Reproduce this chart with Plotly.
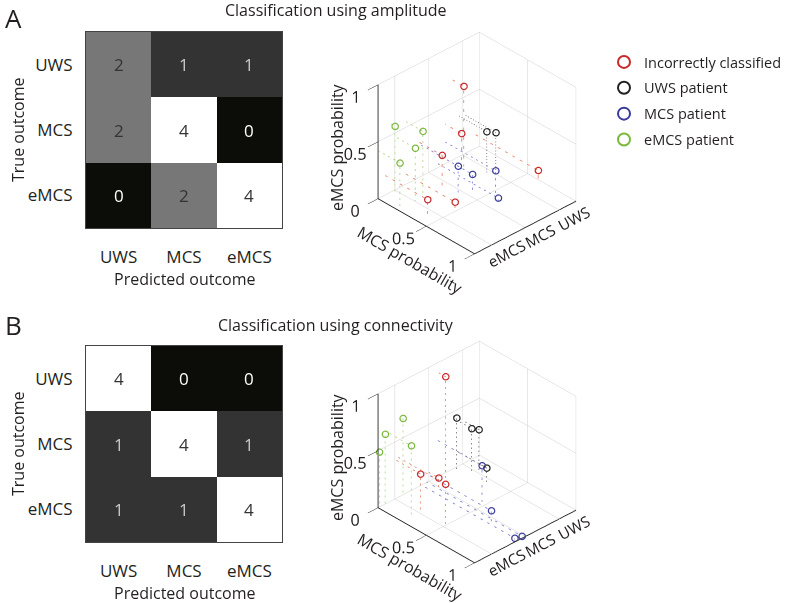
import plotly.graph_objects as go

# ---------------- data ----------------
classes = ["UWS", "MCS", "eMCS"]
conf_amplitude = [[2, 1, 1],
                  [2, 4, 0],
                  [0, 2, 4]]
conf_connectivity = [[4, 0, 0],
                     [1, 4, 1],
                     [1, 1, 4]]

# third axis: true class position (eMCS=1, MCS=2, UWS=3) with jitter
class_ticks = [1, 2, 3]
class_ticktext = ["eMCS", "MCS", "UWS"]

# Panel A (amplitude): MCS probability, class position, eMCS probability
a_incorrect_mcs = [0.117, 0.172, 0.249, 0.438, 0.519, 0.654]
a_incorrect_pos = [2.705, 2.48, 1.685, 0.713, 1.295, 3.371]
a_incorrect_emcs = [0.704, 0.351, 0.319, 0.171, 0.099, 0.123]
a_uws_mcs = [0.286, 0.33]
a_uws_pos = [2.9, 3.044]
a_uws_emcs = [0.357, 0.348]
a_mcs_mcs = [0.381, 0.417, 0.525, 0.661]
a_mcs_pos = [1.781, 2.102, 2.48, 2.168]
a_mcs_emcs = [0.273, 0.169, 0.195, 0.069]
a_emcs_mcs = [0.043, 0.187, 0.205, 0.219]
a_emcs_pos = [0.878, 1.292, 1.016, 0.52]
a_emcs_emcs = [0.598, 0.56, 0.463, 0.416]

# Panel B (connectivity)
b_incorrect_mcs = [0.07, 0.263, 0.103, 0.523]
b_incorrect_pos = [2.3, 1.004, 2.0, 1.001]
b_incorrect_emcs = [0.907, 0.345, 0.08, 0.382]
b_uws_mcs = [0.038, 0.13, 0.153, 0.32]
b_uws_pos = [2.72, 2.9, 3.05, 2.801]
b_uws_emcs = [0.464, 0.388, 0.367, 0.149]
b_mcs_mcs = [0.457, 0.69, 0.974, 0.986]
b_mcs_pos = [2.27, 1.88, 1.76, 1.94]
b_mcs_emcs = [0.318, 0.095, 0.01, 0.005]
b_emcs_mcs = [0.0, 0.005, 0.25, 0.003]
b_emcs_pos = [1.238, 0.698, 0.77, 0.53]
b_emcs_emcs = [0.67, 0.617, 0.623, 0.485]

group_names = ["Incorrectly classified", "UWS patient", "MCS patient", "eMCS patient"]
marker_colors = ["#c8282a", "#222222", "#3b3b9c", "#7ab83c"]
line_colors = ["#e0785a", "#666666", "#7777cc", "#a9d27a"]

FONT = "Open Sans"
TXT = "#231f20"

fig = go.Figure()

# ---------------- heatmaps ----------------
gray_scale = [[0, "#0c0c09"], [0.25, "#333333"], [0.5, "#777777"], [1, "#ffffff"]]
for conf, xa, ya in [(conf_amplitude, "x", "y"), (conf_connectivity, "x2", "y2")]:
    fig.add_trace(go.Heatmap(z=conf, x=classes, y=classes, colorscale=gray_scale,
                             zmin=0, zmax=4, showscale=False, xaxis=xa, yaxis=ya,
                             hoverinfo="skip"))

annotations = []
for conf, xr, yr in [(conf_amplitude, "x", "y"), (conf_connectivity, "x2", "y2")]:
    for i, row_name in enumerate(classes):
        for j, col_name in enumerate(classes):
            v = conf[i][j]
            col = "#ffffff" if v == 0 else ("#c8c8c8" if v == 1 else "#333333")
            annotations.append(dict(x=col_name, y=row_name, xref=xr, yref=yr, text=str(v),
                                    showarrow=False, font=dict(size=17, color=col, family=FONT)))

# ---------------- 3D scatters ----------------
panels = [
    ("scene", [(a_incorrect_mcs, a_incorrect_pos, a_incorrect_emcs),
               (a_uws_mcs, a_uws_pos, a_uws_emcs),
               (a_mcs_mcs, a_mcs_pos, a_mcs_emcs),
               (a_emcs_mcs, a_emcs_pos, a_emcs_emcs)], True),
    ("scene2", [(b_incorrect_mcs, b_incorrect_pos, b_incorrect_emcs),
                (b_uws_mcs, b_uws_pos, b_uws_emcs),
                (b_mcs_mcs, b_mcs_pos, b_mcs_emcs),
                (b_emcs_mcs, b_emcs_pos, b_emcs_emcs)], False),
]

for scene, groups, show in panels:
    for k, (xs, ys, zs) in enumerate(groups):
        X, Y, Z = [], [], []
        for x, y, z in zip(xs, ys, zs):
            X += [0, x, x, None]
            Y += [y, y, y, None]
            Z += [z, z, 0, None]
        fig.add_trace(go.Scatter3d(x=X, y=Y, z=Z, mode="lines", scene=scene,
                                   line=dict(color=line_colors[k], width=1.5, dash="dash"),
                                   showlegend=False, hoverinfo="skip"))
    for k, (xs, ys, zs) in enumerate(groups):
        fig.add_trace(go.Scatter3d(x=xs, y=ys, z=zs, mode="markers", scene=scene,
                                   name=group_names[k], showlegend=show,
                                   legendgroup="g%d" % k,
                                   marker=dict(symbol="circle-open", size=4,
                                               color=marker_colors[k],
                                               line=dict(width=2, color=marker_colors[k]))))


def axis3d(rng, tv, tt, angle, size=14, ticks="inside", ticklen=4, tickcolor="#222222"):
    return dict(range=rng, tickvals=tv, ticktext=tt, title=dict(text=""),
                showbackground=False, showgrid=True, gridcolor="#cfcfcf", gridwidth=1,
                showline=True, linecolor="#222222", linewidth=2, zeroline=False,
                ticks=ticks, tickcolor=tickcolor, ticklen=ticklen, showspikes=False,
                autorange=False, tickangle=angle,
                tickfont=dict(size=size, color=TXT, family=FONT))


eye_dir = (0.607, -0.579, 0.544)
scale = 2.0
camera = dict(eye=dict(x=eye_dir[0] * scale, y=eye_dir[1] * scale, z=eye_dir[2] * scale),
              center=dict(x=0, y=0, z=0), up=dict(x=0, y=0, z=1),
              projection=dict(type="orthographic"))


def scene_layout(ydom):
    return dict(domain=dict(x=[0.414, 0.794], y=ydom),
                xaxis=axis3d([0, 1], [0, 0.5, 1], ["", "0.5", "1"], 0),
                yaxis=axis3d([0.5, 3.5], class_ticks, class_ticktext, -28, size=13.5,
                             ticks="outside", ticklen=14, tickcolor="rgba(0,0,0,0)"),
                zaxis=axis3d([0, 1], [0, 0.5, 1], ["0", "0.5", "1"], 0),
                aspectmode="manual", aspectratio=dict(x=1, y=1, z=0.97),
                camera=camera, dragmode=False, bgcolor="rgba(0,0,0,0)")


def txt(text, x, y, size, angle=0):
    return dict(text=text, x=x / 790, y=1 - y / 603, xref="paper", yref="paper",
                xanchor="center", yanchor="middle", showarrow=False, textangle=angle,
                font=dict(size=size, color=TXT, family=FONT))


annotations += [
    txt("A", 13, 18, 26),
    txt("B", 13, 325, 26),
    txt("Classification using amplitude", 336, 10, 16),
    txt("Classification using connectivity", 336, 325, 16),
    txt("Predicted outcome", 185, 279, 16),
    txt("Predicted outcome", 185, 593, 16),
    txt("True outcome", 18, 130, 16, -90),
    txt("True outcome", 18, 444, 16, -90),
    txt("eMCS probability", 337, 147, 16, -90),
    txt("eMCS probability", 337, 457, 16, -90),
    txt("MCS probability", 410, 260, 16, 30),
    txt("MCS probability", 410, 567, 16, 30),
]

hm_x = dict(type="category", showline=True, mirror=True, linecolor="#444444", linewidth=1,
            ticks="", ticklabelstandoff=14, tickfont=dict(size=17, color=TXT, family=FONT),
            automargin=False, domain=[86 / 790, 282 / 790], fixedrange=True)
hm_y = dict(type="category", showline=True, mirror=True, linecolor="#444444", linewidth=1,
            ticks="", ticklabelstandoff=9, autorange="reversed", automargin=False,
            tickfont=dict(size=17, color=TXT, family=FONT), fixedrange=True)

fig.update_layout(
    width=790, height=603, margin=dict(l=0, r=0, t=0, b=0, autoexpand=False),
    paper_bgcolor="white", plot_bgcolor="white",
    font=dict(family=FONT, color=TXT),
    xaxis=dict(hm_x, anchor="y"),
    yaxis=dict(hm_y, domain=[1 - 228 / 603, 1 - 32 / 603], anchor="x"),
    xaxis2=dict(hm_x, anchor="y2"),
    yaxis2=dict(hm_y, domain=[1 - 542 / 603, 1 - 346 / 603], anchor="x2"),
    scene=scene_layout([0.531, 0.995]),
    scene2=scene_layout([0.018, 0.483]),
    legend=dict(x=604 / 790, y=1 - 46 / 603, xanchor="left", yanchor="top",
                font=dict(size=14.5, color=TXT, family=FONT), bgcolor="rgba(0,0,0,0)",
                itemsizing="constant", tracegroupgap=4),
    annotations=annotations,
    showlegend=True,
)

fig.write_html("out.html", config={"displayModeBar": False},
               post_script="document.body.style.margin='0px';")
